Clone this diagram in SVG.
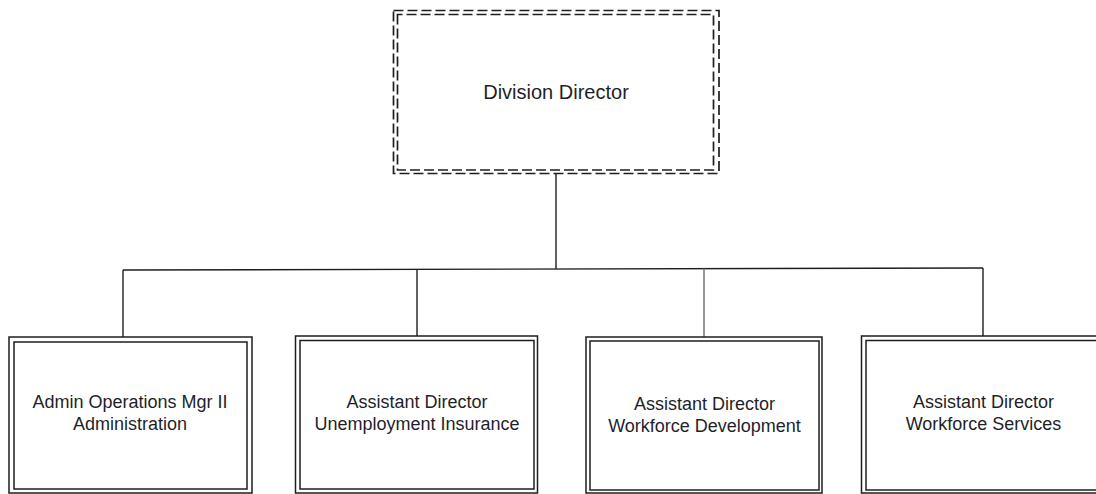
<svg xmlns="http://www.w3.org/2000/svg" width="1096" height="494" viewBox="0 0 1096 494">
<style>
.bg{fill:#ffffff}
.box{fill:none;stroke:#1e1e1e;stroke-width:1.5}
.dash{fill:none;stroke:#1e1e1e;stroke-width:1.7;stroke-dasharray:10 4}
.conn{fill:none;stroke:#1e1e1e;stroke-width:1.4}
.grey{stroke:#6a6a6a}
.lbl{font-family:"Liberation Sans",Arial,sans-serif;font-size:18px;fill:#1f1f2a;text-anchor:middle}
.top{font-size:20px}
</style>
<rect class="bg" x="0" y="0" width="1096" height="494"/>
<g id="connectors">
  <line class="conn" x1="556" y1="173" x2="556" y2="269"/>
  <line class="conn" x1="123" y1="270" x2="983" y2="268"/>
  <line class="conn" x1="123" y1="270" x2="123" y2="337"/>
  <line class="conn" x1="417" y1="269.5" x2="417" y2="336"/>
  <line class="conn grey" x1="704" y1="268.5" x2="704" y2="337"/>
  <line class="conn" x1="983" y1="268" x2="983" y2="336"/>
</g>
<g id="division-director">
  <rect class="dash" x="393.5" y="10.5" width="325.5" height="163"/>
  <rect class="dash" x="397.5" y="14.5" width="316" height="155.5" stroke-dashoffset="5"/>
  <text class="lbl top" x="556" y="99">Division Director</text>
</g>
<g id="admin-operations">
  <rect class="box" x="9" y="337" width="243" height="156"/>
  <rect class="box" x="14" y="342" width="233" height="147"/>
  <text class="lbl" x="130" y="408">Admin Operations Mgr II</text>
  <text class="lbl" x="130" y="430">Administration</text>
</g>
<g id="unemployment-insurance">
  <rect class="box" x="295.5" y="336" width="242" height="157"/>
  <rect class="box" x="300" y="340.5" width="234" height="148.5"/>
  <text class="lbl" x="417" y="408">Assistant Director</text>
  <text class="lbl" x="417" y="430">Unemployment Insurance</text>
</g>
<g id="workforce-development">
  <rect class="box" x="586" y="337" width="236" height="156"/>
  <rect class="box" x="590" y="341" width="229" height="149"/>
  <text class="lbl" x="704.5" y="410">Assistant Director</text>
  <text class="lbl" x="704.5" y="432">Workforce Development</text>
</g>
<g id="workforce-services">
  <rect class="box" x="861.5" y="336" width="250" height="157"/>
  <rect class="box" x="866" y="340.5" width="240" height="149.5"/>
  <text class="lbl" x="983.5" y="408">Assistant Director</text>
  <text class="lbl" x="983.5" y="430">Workforce Services</text>
</g>
</svg>
